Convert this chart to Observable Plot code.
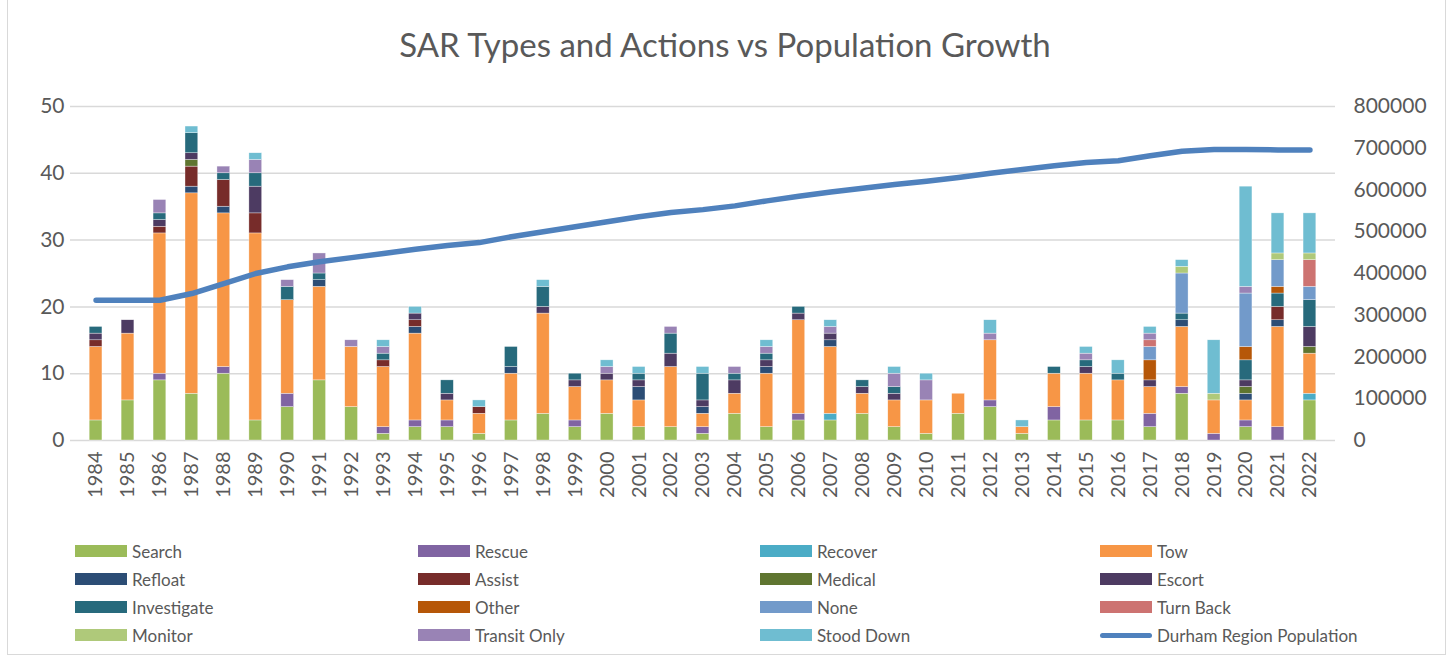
<!DOCTYPE html>
<html>
<head>
<meta charset="utf-8">
<script src="https://cdn.jsdelivr.net/npm/d3@7"></script>
<script src="https://cdn.jsdelivr.net/npm/@observablehq/plot@0.6"></script>
<style>
  body { margin: 0; background: #fff; font-family: Lato, "Open Sans", sans-serif; color: #595959; }
  #frame { position: absolute; left: 7px; top: -2px; width: 1439px; height: 657px; border: 1px solid #d9d9d9; border-top: none; box-sizing: border-box; }
  #title { position: absolute; left: 0; top: 24px; width: 1450px; text-align: center; font-size: 33px; color: #595959; }
  #chart { position: absolute; left: 0; top: 90px; }
  .lg { position: absolute; height: 20px; display: flex; align-items: center; font-size: 17px; color: #595959; white-space: nowrap; }
  .sw { width: 52px; height: 12px; margin-right: 5px; }
</style>
</head>
<body>
<div id="frame"></div>
<div id="title">SAR Types and Actions vs Population Growth</div>
<div id="chart"></div>
<div id="legend"></div>
<script>
const years = ["1984","1985","1986","1987","1988","1989","1990","1991","1992","1993","1994","1995","1996","1997","1998","1999","2000","2001","2002","2003","2004","2005","2006","2007","2008","2009","2010","2011","2012","2013","2014","2015","2016","2017","2018","2019","2020","2021","2022"];

const categories = ["Search","Rescue","Recover","Tow","Refloat","Assist","Medical","Escort","Investigate","Other","None","Turn Back","Monitor","Transit Only","Stood Down"];
const colors = ["#9BBB59","#8064A2","#4BACC6","#F79646","#2C4D75","#772C2A","#5F7530","#4D3B62","#276A7C","#B65708","#729ACA","#CD7371","#AFC97A","#9983B5","#6FBDD1"];

//            1984-1989        | 1990-1999                  | 2000-2009                  | 2010-2019                  | 2020-2022
const search    = [3,6,9,7,10,3,   5,9,5,1,2,2,1,3,4,2,   4,2,2,1,4,2,3,3,4,2,   1,4,5,1,3,3,3,2,7,0,   2,0,6];
const rescue    = [0,0,1,0,1,0,    2,0,0,1,1,1,0,0,0,1,   0,0,0,1,0,0,1,0,0,0,   0,0,1,0,2,0,0,2,1,1,   1,2,0];
const recover   = [0,0,0,0,0,0,    0,0,0,0,0,0,0,0,0,0,   0,0,0,0,0,0,0,1,0,0,   0,0,0,0,0,0,0,0,0,0,   0,0,1];
const tow       = [11,10,21,30,23,28, 14,14,9,9,13,3,3,7,15,5, 5,4,9,2,3,8,14,10,3,4, 5,3,9,1,5,7,6,4,9,5, 3,15,6];
const refloat   = [0,0,0,1,1,0,    0,1,0,0,1,0,0,1,0,0,   0,2,0,1,0,1,0,1,0,0,   0,0,0,0,0,0,0,0,1,0,   1,1,0];
const assist    = [1,0,1,3,4,3,    0,0,0,1,1,0,1,0,0,0,   0,0,0,0,0,0,0,0,0,0,   0,0,0,0,0,0,0,0,0,0,   0,2,0];
const medical   = [0,0,0,1,0,0,    0,0,0,0,0,0,0,0,0,0,   0,0,0,0,0,0,0,0,0,0,   0,0,0,0,0,0,0,0,0,0,   1,0,1];
const escort    = [1,2,1,1,0,4,    0,0,0,0,1,1,0,0,1,1,   1,1,2,1,2,1,1,1,1,1,   0,0,0,0,0,1,0,1,0,0,   1,0,3];
const investigate = [1,0,1,3,1,2,  2,1,0,1,0,2,0,3,3,1,   0,1,3,4,1,1,1,0,1,1,   0,0,0,0,1,1,1,0,1,0,   3,2,4];
const other     = [0,0,0,0,0,0,    0,0,0,0,0,0,0,0,0,0,   0,0,0,0,0,0,0,0,0,0,   0,0,0,0,0,0,0,3,0,0,   2,1,0];
const none      = [0,0,0,0,0,0,    0,0,0,0,0,0,0,0,0,0,   0,0,0,0,0,0,0,0,0,0,   0,0,0,0,0,0,0,2,6,0,   8,4,2];
const turnBack  = [0,0,0,0,0,0,    0,0,0,0,0,0,0,0,0,0,   0,0,0,0,0,0,0,0,0,0,   0,0,0,0,0,0,0,1,0,0,   0,0,4];
const monitor   = [0,0,0,0,0,0,    0,0,0,0,0,0,0,0,0,0,   0,0,0,0,0,0,0,0,0,0,   0,0,0,0,0,0,0,0,1,1,   0,1,1];
const transitOnly = [0,0,2,0,1,2,  1,3,1,1,0,0,0,0,0,0,   1,0,1,0,1,1,0,1,0,2,   3,0,1,0,0,1,0,1,0,0,   1,0,0];
const stoodDown = [0,0,0,1,0,1,    0,0,0,1,1,0,1,0,1,0,   1,1,0,1,0,1,0,1,0,1,   1,0,2,1,0,1,2,1,1,8,   15,6,6];

const population = [336000,336000,336000,352000,376000,400000,416000,428000,438000,448000,458000,467000,474000,488000,500000,512000,524000,536000,546000,553000,562000,574000,585000,595000,604000,613000,621000,630000,640000,649000,658000,666000,670000,682000,693000,697000,697000,696000,696000];

const leftTicks = [0,10,20,30,40,50];
const rightTicks = [0,100000,200000,300000,400000,500000,600000,700000,800000];
const popLabel = "Durham Region Population";

const seriesList = [search,rescue,recover,tow,refloat,assist,medical,escort,investigate,other,none,turnBack,monitor,transitOnly,stoodDown];
const ratio = 800000 / 50; // right axis max / left axis max

const stacked = [];
categories.forEach((c, i) => seriesList[i].forEach((v, j) => {
  if (v > 0) stacked.push({year: years[j], type: c, value: v});
}));
const popData = years.map((y, j) => ({year: y, pop: population[j]}));

const chart = Plot.plot({
  width: 1450,
  height: 430,
  marginLeft: 70,
  marginRight: 115,
  marginTop: 16,
  marginBottom: 80,
  style: {fontFamily: "Lato, 'Open Sans', sans-serif", color: "#595959", background: "transparent"},
  x: {type: "band", domain: years, padding: 0.6, label: null},
  y: {domain: [0, 50], label: null},
  color: {domain: categories, range: colors},
  marks: [
    Plot.gridY(leftTicks, {stroke: "#d9d9d9", strokeOpacity: 1, strokeWidth: 1.5}),
    Plot.axisY(leftTicks, {anchor: "left", tickSize: 0, tickPadding: 6, fontSize: 21, label: null}),
    Plot.axisY(rightTicks.map(d => d / ratio), {anchor: "right", tickSize: 0, tickPadding: 18, fontSize: 21, label: null, tickFormat: d => String(Math.round(d * ratio))}),
    Plot.axisX({tickRotate: -90, tickSize: 0, tickPadding: 11, fontSize: 20, label: null}),
    Plot.barY(stacked, {x: "year", y: "value", fill: "type", order: categories, stroke: "#ffffff", strokeWidth: 0.5, strokeOpacity: 0.7}),
    Plot.line(popData, {x: "year", y: d => d.pop / ratio, stroke: "#4F81BD", strokeWidth: 5.5, strokeLinecap: "round", strokeLinejoin: "round"})
  ]
});
document.getElementById("chart").appendChild(chart);

// legend
const legend = document.getElementById("legend");
const colX = [75, 418, 760, 1100];
const rowY = [551, 579, 607, 635];
const items = categories.map((c, i) => ({label: c, color: colors[i], line: false}));
items.push({label: popLabel, color: "#4F81BD", line: true});
items.forEach((it, i) => {
  const d = document.createElement("div");
  d.className = "lg";
  d.style.left = colX[i % 4] + "px";
  d.style.top = (rowY[Math.floor(i / 4)] - 10) + "px";
  const s = document.createElement("div");
  s.className = "sw";
  if (it.line) {
    s.style.height = "5px";
    s.style.borderRadius = "3px";
  }
  s.style.background = it.color;
  d.appendChild(s);
  const t = document.createElement("span");
  t.textContent = it.label;
  d.appendChild(t);
  legend.appendChild(d);
});
</script>
</body>
</html>
